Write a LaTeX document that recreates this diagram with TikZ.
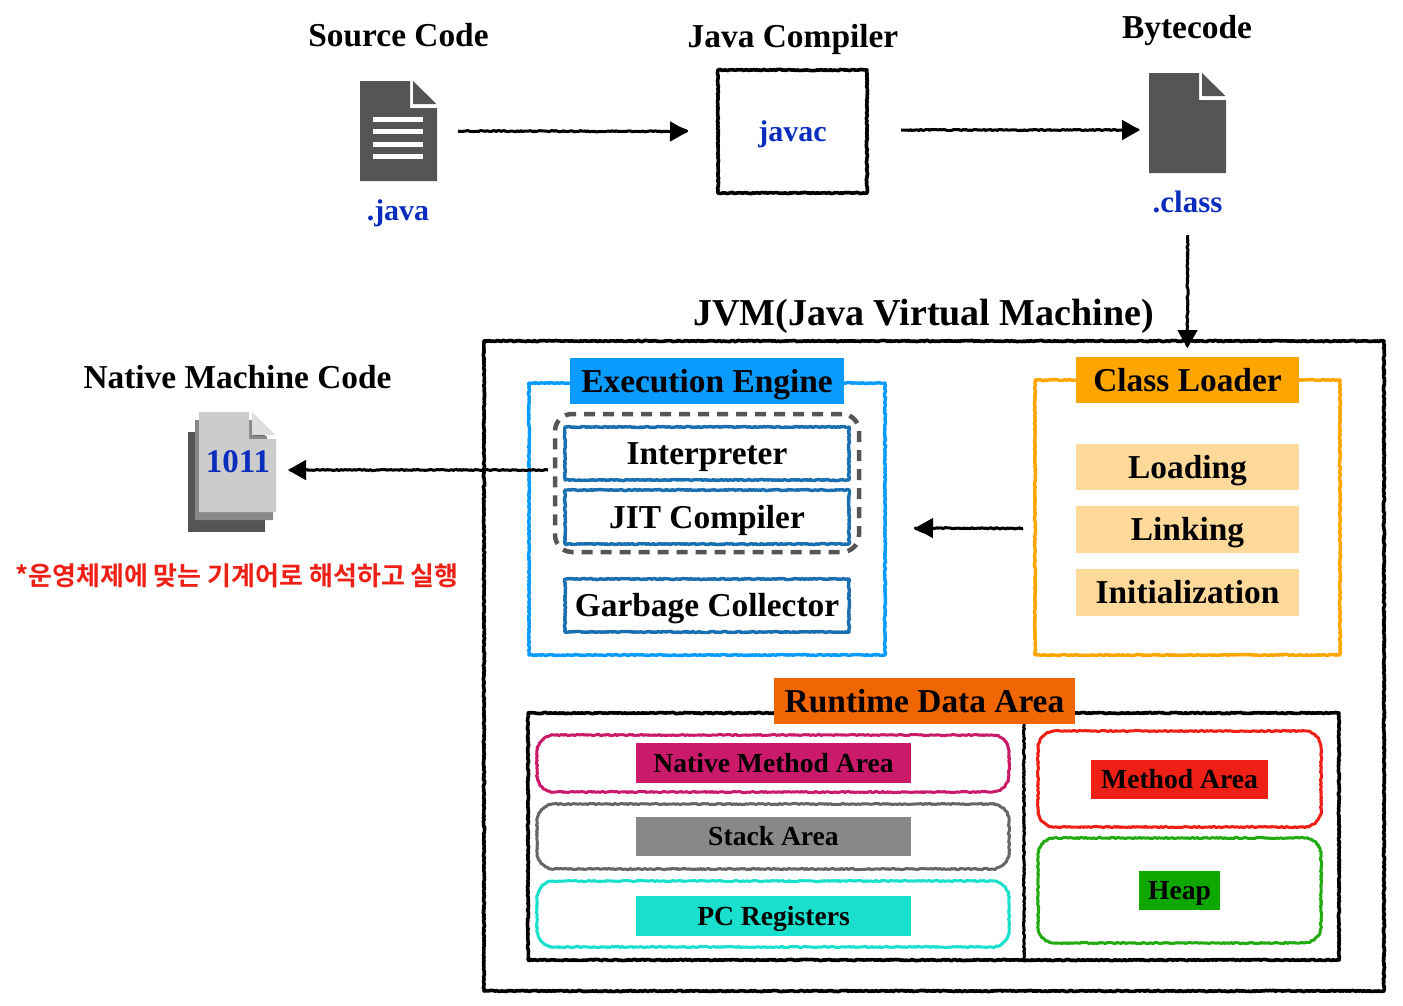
\documentclass[tikz,border=0pt]{standalone}
\usepackage{fontspec}
\setmainfont{Liberation Serif}[BoldFont={Liberation Serif Bold}]
\newfontfamily\krfont{Noto Sans CJK KR}[BoldFont={Noto Sans CJK KR Bold}]
\usetikzlibrary{arrows.meta,decorations.pathmorphing,calc}
\definecolor{docgray}{HTML}{555555}
\definecolor{txtblue}{HTML}{0A2DBE}
\definecolor{engblue}{HTML}{0A9BFF}
\definecolor{innerblue}{HTML}{1A6FB0}
\definecolor{loaderor}{HTML}{FFA500}
\definecolor{loaderlt}{HTML}{FFD99A}
\definecolor{runor}{HTML}{F06600}
\definecolor{nativepk}{HTML}{CC1A6B}
\definecolor{stackgr}{HTML}{666666}
\definecolor{stacklb}{HTML}{888888}
\definecolor{pccy}{HTML}{18E0CC}
\definecolor{redbox}{HTML}{EE2015}
\definecolor{greenbox}{HTML}{22AA11}
\definecolor{greenlb}{HTML}{0FA800}
\definecolor{redtxt}{HTML}{EE2015}
\tikzset{
  sk/.style={line join=round,decorate,decoration={random steps,segment length=1.6pt,amplitude=.6pt}},
  roughbox/.style args={#1/#2/#3/#4}{draw=#1,line width=#2,sk,minimum width=#3,minimum height=#4,inner sep=0pt,outer sep=0pt},
  plainbox/.style args={#1/#2}{minimum width=#1,minimum height=#2,inner sep=0pt,outer sep=0pt},
  rrline/.style={draw=#1,line width=3pt,sk},
  big/.style={font=\bfseries\fontsize{33.4}{38}\selectfont,text height=22pt,text depth=0pt},
  lbl/.style args={#1/#2/#3}{fill=#1,minimum width=#2,minimum height=#3,inner sep=0pt,outer sep=0pt,text=black,big},
  title/.style={big,inner sep=0pt},
  inner/.style={big,inner sep=0pt},
  small/.style={font=\bfseries\fontsize{27.6}{32}\selectfont,text height=18.5pt,text depth=0pt},
  bluetxt/.style={text=txtblue,font=\bfseries\fontsize{30}{34}\selectfont,text height=20pt,text depth=0pt,inner sep=0pt},
  conn/.style={line width=1.6pt,black,line join=round,-{Triangle[length=18pt,width=20pt]},
     postaction={draw,-,sk,line width=3pt,shorten >=10pt}},
  icon/.style={minimum width=77pt,minimum height=100pt,inner sep=0pt,outer sep=0pt},
}
\newcommand{\docbody}[1]{%
  \fill[#1] (-38.5,-50) -- (11.5,-50) -- (11.5,-23) -- (38.5,-23) -- (38.5,50) -- (-38.5,50) -- cycle;
}
\newcommand{\docfold}[1]{\fill[#1] (14.5,-50) -- (38,-27) -- (14.5,-27) -- cycle;}
\newcommand{\rrdraw}[2]{\draw[rrline=#2] ([xshift=17pt]#1.north west) -- ([xshift=-17pt]#1.north east) arc[start angle=90,end angle=0,radius=17pt] -- ([yshift=17pt]#1.south east) arc[start angle=0,end angle=-90,radius=17pt] -- ([xshift=17pt]#1.south west) arc[start angle=-90,end angle=-180,radius=17pt] -- ([yshift=-17pt]#1.north west) arc[start angle=180,end angle=90,radius=17pt] -- cycle;}
\begin{document}
\begin{tikzpicture}[x=1pt,y=-1pt]
\useasboundingbox (0,0) rectangle (1403,1005);
% top row
\node[title] (srct) at (398.5,35) {Source Code};
\node[title] (jct) at (793,36) {Java Compiler};
\node[title] (bct) at (1187,27) {Bytecode};
\node[icon] (doca) at (398.5,131) {};
\begin{scope}[shift={(doca.center)}]
  \docbody{docgray}\docfold{docgray}
  \fill[white] (-25.5,-14) rectangle (24.5,-9);
  \fill[white] (-25.5,-2) rectangle (24.5,3);
  \fill[white] (-25.5,11) rectangle (24.5,16);
  \fill[white] (-25.5,23) rectangle (24.5,28);
\end{scope}
\node[bluetxt] (javaext) at (398,210) {.java};
\node[roughbox=black/3.6pt/149pt/123pt,bluetxt] (javac) at (792.5,131.5) {javac};
\node[icon] (docb) at (1187.5,123) {};
\begin{scope}[shift={(docb.center)}]
  \docbody{docgray}\docfold{docgray}
\end{scope}
\node[bluetxt,font=\bfseries\fontsize{31}{34}\selectfont] (classext) at (1187.5,202) {.class};
% JVM
\node[roughbox=black/3.6pt/900pt/650pt] (jvm) at (934,666) {};
\node[font=\bfseries\fontsize{38}{42}\selectfont,text height=25pt,text depth=0pt,inner sep=0pt] (jvmt) at (923.5,313) {JVM(Java Virtual Machine)};
% Execution engine
\node[roughbox=engblue/3.4pt/356pt/272pt] (engine) at (707,519) {};
\node[lbl=engblue/274pt/46pt] (enginel) at (707,381) {Execution Engine};
\node[roughbox=innerblue/3.4pt/284pt/53pt,inner] (interp) at (707,453.5) {Interpreter};
\node[roughbox=innerblue/3.4pt/284pt/54pt,inner] (jit) at (707,517) {JIT Compiler};
\node[roughbox=innerblue/3.4pt/284pt/53pt,inner] (gc) at (707,605.5) {Garbage Collector};
\node[draw=docgray,line width=4.5pt,dash pattern=on 11pt off 8pt,rounded corners=17pt,minimum width=304pt,minimum height=138pt,inner sep=0pt,outer sep=0pt] (dash) at (707,483) {};
% Class loader
\node[roughbox=loaderor/3.4pt/305pt/275pt] (loader) at (1187.5,517.5) {};
\node[lbl=loaderor/223pt/46pt] (loaderl) at (1187.5,380) {Class Loader};
\node[lbl=loaderlt/223pt/46pt] (loading) at (1187.5,467) {Loading};
\node[lbl=loaderlt/223pt/47pt] (linking) at (1187.5,529.5) {Linking};
\node[lbl=loaderlt/223pt/47pt] (init) at (1187.5,592.5) {Initialization};
% Runtime data area
\node[roughbox=black/3.6pt/811pt/247pt] (runtime) at (933.5,836.5) {};
\node[lbl=runor/301pt/46pt] (runl) at (924.5,701) {Runtime Data Area};
\coordinate (divtop) at (1024,724);
\draw[black,line width=3pt,sk] (divtop) -- (divtop |- runtime.south);
\node[plainbox=472pt/57pt] (nmabox) at (773,763.5) {};
\rrdraw{nmabox}{nativepk}
\node[lbl=nativepk/275pt/40pt,small] (nmal) at (773.5,763) {Native Method Area};
\node[plainbox=472pt/65pt] (sabox) at (773,836.5) {};
\rrdraw{sabox}{stackgr}
\node[lbl=stacklb/275pt/39pt,small] (sal) at (773.5,836.5) {Stack Area};
\node[plainbox=472pt/66pt] (pcbox) at (773,914) {};
\rrdraw{pcbox}{pccy}
\node[lbl=pccy/275pt/40pt,small] (pcl) at (773.5,916) {PC Registers};
\node[plainbox=283pt/96pt] (mabox) at (1179.5,779) {};
\rrdraw{mabox}{redbox}
\node[lbl=redbox/177pt/39pt,small] (mal) at (1179.5,779.5) {Method Area};
\node[plainbox=283pt/105pt] (hpbox) at (1179.5,890.5) {};
\rrdraw{hpbox}{greenbox}
\node[lbl=greenlb/81pt/39pt,small] (hpl) at (1179.5,890.5) {Heap};
% Native code
\node[title] (nmct) at (237.5,377) {Native Machine Code};
\node[icon] (native) at (237.5,462) {};
\begin{scope}[shift={(native.center)}]
  \fill[docgray] (-49.5,-30) rectangle (27.5,70);
  \fill[stacklb] (-42.5,-42) -- (15.5,-42) -- (15.5,-26) -- (29.5,-26) -- (29.5,-23) -- (35.5,-23) -- (35.5,58) -- (-42.5,58) -- cycle;
  \fill[gray!40] (-38.5,-50) -- (11.5,-50) -- (11.5,-23) -- (38.5,-23) -- (38.5,50) -- (-38.5,50) -- cycle;
  \docfold{gray!27}
\end{scope}
\node[bluetxt,font=\bfseries\fontsize{33}{36}\selectfont] (bin) at (238,462.5) {1011};
\node[font=\krfont\bfseries\fontsize{26}{30}\selectfont,text=redtxt,inner sep=0pt] (note) at (237,576) {*운영체제에 맞는 기계어로 해석하고 실행};
% connectors
\draw[conn] ([xshift=21pt]doca.east) -- ([xshift=-30pt]javac.west);
\draw[conn] ([xshift=34pt,yshift=1.5pt]javac.east) -- ([shift={(-9pt,-7pt)}]docb.west);
\draw[conn] ([yshift=-23pt]classext.south) -- ([yshift=-7pt]jvm.north -| classext.south);
\draw[conn] ([xshift=-12pt,yshift=-11pt]loader.west) -- ([xshift=30pt,yshift=-9pt]engine.east);
\draw[conn] ([xshift=-7pt,yshift=13pt]dash.west) -- ([xshift=12pt,yshift=-8pt]native.east);
\end{tikzpicture}
\end{document}
